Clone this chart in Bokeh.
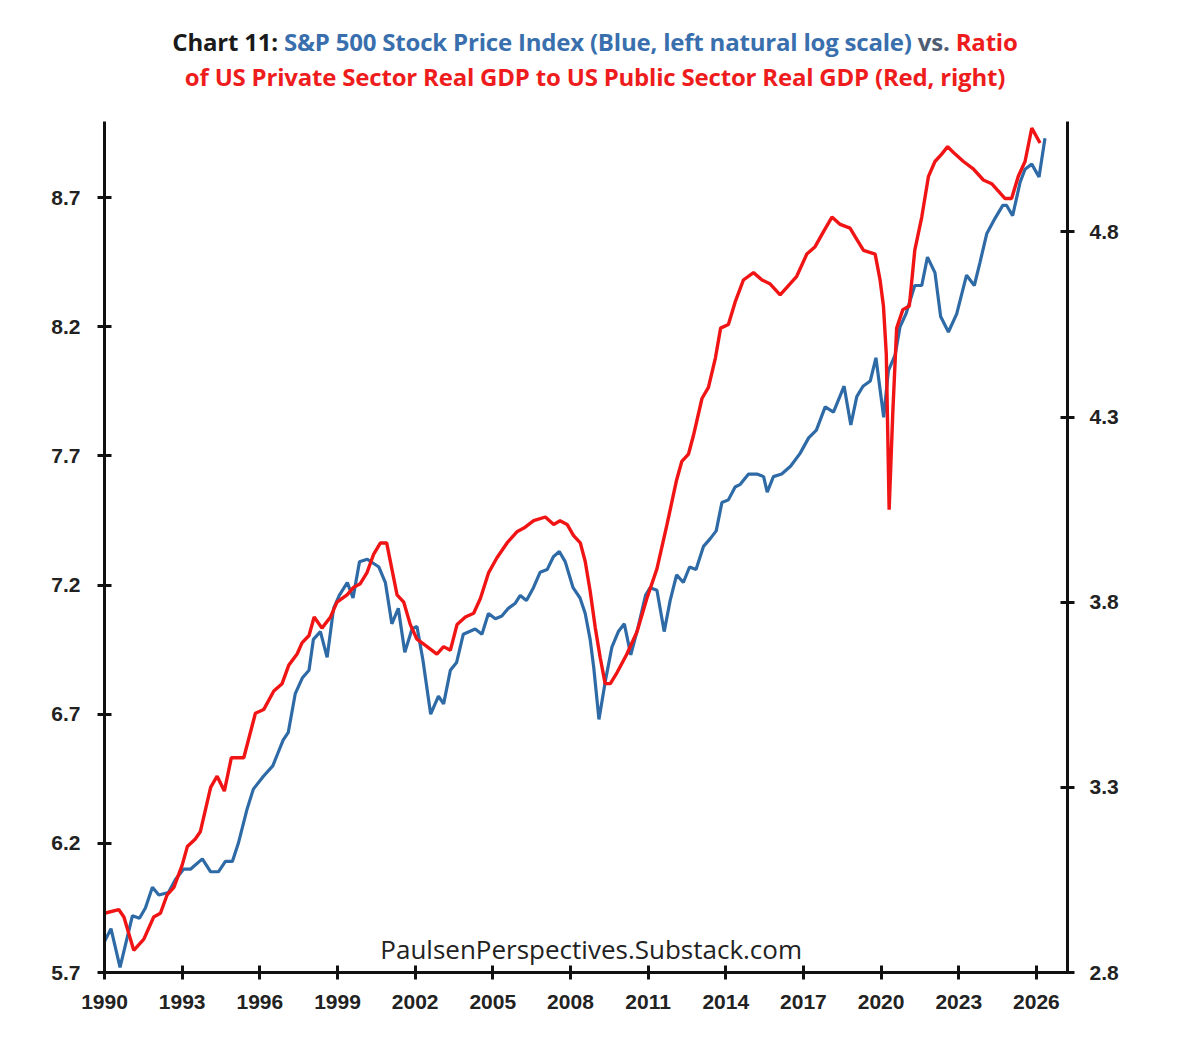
from bokeh.plotting import figure
from bokeh.models import (Range1d, LinearAxis, FixedTicker, Label, Div,
                          NumeralTickFormatter)
from bokeh.layouts import column
from bokeh.embed import file_html
from bokeh.resources import INLINE

# ---------------- data ----------------
spx_year = [1990.0, 1990.25, 1990.6, 1991.08, 1991.35, 1991.58, 1991.85, 1992.1, 1992.47, 1992.74,
            1993.05, 1993.32, 1993.78, 1994.1, 1994.4, 1994.67, 1994.94, 1995.17, 1995.5, 1995.75,
            1996.14, 1996.5, 1996.7, 1996.9, 1997.1, 1997.37, 1997.64, 1997.9, 1998.07, 1998.34,
            1998.6, 1998.85, 1999.07, 1999.38, 1999.6, 1999.85, 2000.15, 2000.6, 2000.85, 2001.1,
            2001.35, 2001.6, 2001.88, 2002.07, 2002.3, 2002.6, 2002.9, 2003.1, 2003.36, 2003.6,
            2003.86, 2004.32, 2004.58, 2004.83, 2005.1, 2005.35, 2005.6, 2005.87, 2006.06, 2006.3,
            2006.57, 2006.83, 2007.1, 2007.34, 2007.57, 2007.8, 2008.1, 2008.37, 2008.57, 2008.76,
            2008.9, 2009.1, 2009.35, 2009.6, 2009.85, 2010.08, 2010.33, 2010.62, 2010.9, 2011.08,
            2011.34, 2011.62, 2011.85, 2012.1, 2012.36, 2012.6, 2012.85, 2013.14, 2013.4, 2013.63,
            2013.85, 2014.1, 2014.36, 2014.56, 2014.88, 2015.2, 2015.46, 2015.6, 2015.84, 2016.16,
            2016.5, 2016.87, 2017.2, 2017.5, 2017.84, 2018.16, 2018.57, 2018.83, 2019.06, 2019.3,
            2019.58, 2019.8, 2020.1, 2020.28, 2020.54, 2020.73, 2020.96, 2021.3, 2021.57, 2021.79,
            2022.08, 2022.3, 2022.6, 2022.92, 2023.3, 2023.6, 2023.82, 2024.08, 2024.4, 2024.7,
            2024.85, 2025.08, 2025.37, 2025.56, 2025.82, 2026.1, 2026.33]
spx_log = [5.82, 5.87, 5.72, 5.92, 5.91, 5.95, 6.03, 6.00, 6.01, 6.06,
           6.10, 6.10, 6.14, 6.09, 6.09, 6.13, 6.13, 6.20, 6.33, 6.41,
           6.46, 6.50, 6.55, 6.60, 6.63, 6.78, 6.84, 6.87, 6.99, 7.02,
           6.92, 7.11, 7.16, 7.21, 7.15, 7.29, 7.30, 7.27, 7.21, 7.05,
           7.11, 6.94, 7.03, 7.04, 6.91, 6.70, 6.77, 6.74, 6.87, 6.90,
           7.01, 7.03, 7.01, 7.09, 7.07, 7.08, 7.11, 7.13, 7.16, 7.14,
           7.19, 7.25, 7.26, 7.31, 7.33, 7.29, 7.19, 7.15, 7.09, 6.99,
           6.88, 6.68, 6.83, 6.96, 7.02, 7.05, 6.93, 7.04, 7.16, 7.19,
           7.18, 7.02, 7.14, 7.24, 7.21, 7.27, 7.26, 7.35, 7.38, 7.41,
           7.52, 7.53, 7.58, 7.59, 7.63, 7.63, 7.62, 7.56, 7.62, 7.63,
           7.66, 7.71, 7.77, 7.80, 7.89, 7.87, 7.97, 7.82, 7.93, 7.97,
           7.99, 8.08, 7.85, 8.03, 8.09, 8.20, 8.25, 8.36, 8.36, 8.47,
           8.41, 8.24, 8.18, 8.25, 8.40, 8.36, 8.45, 8.56, 8.62, 8.67,
           8.67, 8.63, 8.76, 8.81, 8.83, 8.78, 8.93]

ratio_year = [1990.0, 1990.55, 1990.75, 1991.13, 1991.52, 1991.9, 1992.16, 1992.42, 1992.68, 1993.0,
              1993.2, 1993.5, 1993.7, 1994.1, 1994.35, 1994.63, 1994.9, 1995.38, 1995.83, 1996.15,
              1996.54, 1996.86, 1997.12, 1997.44, 1997.63, 1997.9, 1998.1, 1998.4, 1998.73, 1998.98,
              1999.37, 1999.62, 1999.88, 2000.14, 2000.4, 2000.66, 2000.9, 2001.1, 2001.3, 2001.56,
              2001.81, 2002.07, 2002.46, 2002.84, 2003.1, 2003.36, 2003.62, 2003.94, 2004.26, 2004.52,
              2004.84, 2005.16, 2005.55, 2005.93, 2006.2, 2006.58, 2007.03, 2007.35, 2007.6, 2007.87,
              2008.12, 2008.38, 2008.57, 2008.76, 2008.96, 2009.15, 2009.34, 2009.54, 2009.8, 2010.18,
              2010.57, 2010.95, 2011.34, 2011.73, 2012.1, 2012.3, 2012.56, 2012.75, 2013.08, 2013.33,
              2013.6, 2013.8, 2014.1, 2014.36, 2014.68, 2015.07, 2015.4, 2015.7, 2016.1, 2016.36,
              2016.74, 2017.13, 2017.45, 2017.77, 2018.1, 2018.42, 2018.8, 2019.06, 2019.32, 2019.77,
              2019.96, 2020.09, 2020.2, 2020.31, 2020.45, 2020.6, 2020.84, 2021.09, 2021.3, 2021.57,
              2021.83, 2022.08, 2022.34, 2022.57, 2022.86, 2023.18, 2023.56, 2023.95, 2024.27, 2024.53,
              2024.79, 2025.04, 2025.3, 2025.56, 2025.82, 2026.14]
ratio_val = [2.96, 2.97, 2.95, 2.86, 2.89, 2.95, 2.96, 3.01, 3.03, 3.09,
             3.14, 3.16, 3.18, 3.30, 3.33, 3.29, 3.38, 3.38, 3.50, 3.51,
             3.56, 3.58, 3.63, 3.66, 3.69, 3.71, 3.76, 3.73, 3.76, 3.80,
             3.82, 3.84, 3.85, 3.88, 3.93, 3.96, 3.96, 3.89, 3.82, 3.80,
             3.74, 3.70, 3.68, 3.66, 3.68, 3.67, 3.74, 3.76, 3.77, 3.81,
             3.88, 3.92, 3.96, 3.99, 4.00, 4.02, 4.03, 4.01, 4.02, 4.01,
             3.98, 3.96, 3.91, 3.83, 3.73, 3.65, 3.58, 3.58, 3.61, 3.66,
             3.72, 3.81, 3.89, 4.01, 4.13, 4.18, 4.20, 4.25, 4.35, 4.38,
             4.46, 4.54, 4.55, 4.61, 4.67, 4.69, 4.67, 4.66, 4.63, 4.65,
             4.68, 4.74, 4.76, 4.80, 4.84, 4.82, 4.81, 4.78, 4.75, 4.74,
             4.67, 4.60, 4.47, 4.05, 4.31, 4.54, 4.59, 4.60, 4.75, 4.84,
             4.95, 4.99, 5.01, 5.03, 5.01, 4.99, 4.97, 4.94, 4.93, 4.91,
             4.89, 4.89, 4.95, 4.99, 5.08, 5.04]

x_ticks = [1990, 1993, 1996, 1999, 2002, 2005, 2008, 2011, 2014, 2017, 2020, 2023, 2026]
left_ticks = [5.7, 6.2, 6.7, 7.2, 7.7, 8.2, 8.7]
right_ticks = [2.8, 3.3, 3.8, 4.3, 4.8]

title_html = (
    '<div style="width:1190px;text-align:center;font-family:\'Open Sans\';font-weight:bold;'
    'font-size:24px;line-height:35px;padding-top:24px;letter-spacing:-0.2px;">'
    '<span style="color:#1a1a1a">Chart 11:</span> '
    '<span style="color:#3a6fae">S&amp;P 500 Stock Price Index (Blue, left natural log scale)</span> '
    '<span style="color:#4f5d73">vs.</span> '
    '<span style="color:#ee1c1c">Ratio<br>of US Private Sector Real GDP to US Public Sector Real GDP (Red, right)</span>'
    '</div>'
)
title = Div(text=title_html, width=1190, height=100, margin=(0, 0, 0, 0))

p = figure(width=1148, height=932, output_backend="svg", toolbar_location=None,
           x_range=Range1d(1990, 2027.2), y_range=Range1d(5.7, 8.995),
           min_border_left=104, min_border_right=81, min_border_top=21, min_border_bottom=60,
           margin=(0, 0, 0, 0))
p.extra_y_ranges = {"right": Range1d(2.8, 5.098)}
p.outline_line_color = None
p.xgrid.visible = False
p.ygrid.visible = False
p.background_fill_color = "white"
p.border_fill_color = "white"

p.line(spx_year, spx_log, line_color="#2e6aa6", line_width=3.2)
p.line(ratio_year, ratio_val, line_color="#f01414", line_width=3.4, y_range_name="right")

right_axis = LinearAxis(y_range_name="right")
p.add_layout(right_axis, "right")

p.xaxis.ticker = FixedTicker(ticks=x_ticks)
p.yaxis[0].ticker = FixedTicker(ticks=left_ticks)
right_axis.ticker = FixedTicker(ticks=right_ticks)
p.yaxis[0].formatter = NumeralTickFormatter(format="0.0")
right_axis.formatter = NumeralTickFormatter(format="0.0")

for ax in [p.xaxis[0], p.yaxis[0], right_axis]:
    ax.axis_line_width = 3
    ax.axis_line_color = "#111111"
    ax.major_tick_line_width = 3
    ax.major_tick_line_color = "#111111"
    ax.major_tick_in = 7
    ax.major_tick_out = 7
    ax.minor_tick_line_color = None
    ax.major_label_text_font = "Liberation Sans"
    ax.major_label_text_font_style = "bold"
    ax.major_label_text_font_size = "21px"
    ax.major_label_text_color = "#222222"

p.yaxis[0].major_label_standoff = 17
right_axis.major_label_standoff = 15
p.xaxis[0].major_label_standoff = 15

wm = Label(x=2008.8, y=5.79, text="PaulsenPerspectives.Substack.com",
           text_align="center", text_baseline="middle",
           text_font="Open Sans", text_font_size="26px", text_color="#222222")
p.add_layout(wm)

layout = column(title, p, spacing=0)
open("out.html", "w").write(file_html(layout, INLINE))
